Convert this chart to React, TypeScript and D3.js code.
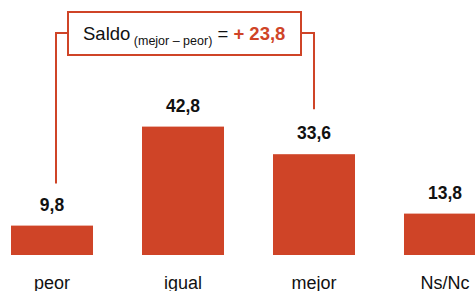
import React from 'react';
import { scaleBand, scaleLinear } from 'd3';

const categories = ['peor', 'igual', 'mejor', 'Ns/Nc'];
const values = [9.8, 42.8, 33.6, 13.8];
const valueLabels = ['9,8', '42,8', '33,6', '13,8'];
const saldoLabel = '+ 23,8';

const RED = '#cf4427';
const FONT = '"Liberation Sans", Arial, sans-serif';

const App = () => {
  const width = 475;
  const height = 291;

  const x = scaleBand()
    .domain(categories)
    .range([11, 486])
    .paddingInner(0.374)
    .paddingOuter(0);

  const y = scaleLinear()
    .domain([0, 50])
    .range([255, 105]);

  const cx = (c) => x(c) + x.bandwidth() / 2;

  // bracket ends sit above the value labels of "peor" and "mejor"
  const leftX = cx('peor') + 4;
  const rightX = cx('mejor');
  const leftEnd = y(values[0]) - 42;
  const rightEnd = y(values[2]) - 45;
  const boxL = 68, boxR = 301, boxT = 12, boxB = 55, armY = 33;

  return (
    <svg width={width} height={height}
      style={{ position: 'absolute', left: 0, top: 0, background: '#fff' }}
      fontFamily={FONT}>
      {categories.map((c, i) => (
        <g key={c}>
          <rect x={x(c)} y={y(values[i])} width={x.bandwidth()}
            height={y(0) - y(values[i])} fill={RED} />
          <text x={cx(c)} y={y(values[i]) - 15} textAnchor="middle"
            fontSize={17.5} fontWeight="bold" fill="#111">{valueLabels[i]}</text>
          <text x={cx(c)} y={289} textAnchor="middle" fontSize={18}
            fill="#111">{c}</text>
        </g>
      ))}

      <path d={`M${leftX},${leftEnd}V${armY}H${boxL}`} fill="none" stroke={RED} strokeWidth={2} />
      <path d={`M${rightX},${rightEnd}V${armY}H${boxR}`} fill="none" stroke={RED} strokeWidth={2} />
      <rect x={boxL} y={boxT} width={boxR - boxL} height={boxB - boxT}
        fill="#fff" stroke={RED} strokeWidth={2} />
      <text x={83} y={40} fontSize={18.5} fill="#111">
        Saldo
        <tspan fontSize={12.5} dy={5}> (mejor – peor)</tspan>
        <tspan dy={-5}> = </tspan>
        <tspan fontWeight="bold" fill={RED}>{saldoLabel}</tspan>
      </text>
    </svg>
  );
};

export default App;
